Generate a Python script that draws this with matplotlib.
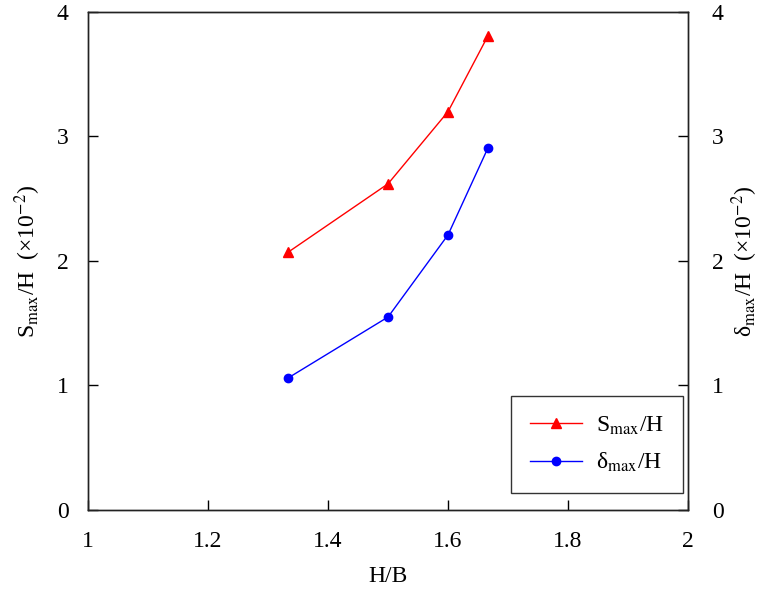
import matplotlib
matplotlib.use("Agg")
import matplotlib.pyplot as plt

plt.rcParams['font.family'] = ['Liberation Serif', 'DejaVu Serif']
plt.rcParams['mathtext.fontset'] = 'stix'

# data
hb = [4 / 3, 1.5, 1.6, 5 / 3]
s_max = [2.07, 2.62, 3.20, 3.81]       # S_max/H (x10^-2), left axis
d_max = [1.06, 1.55, 2.21, 2.91]       # delta_max/H (x10^-2), right axis
x_ticks = [1, 1.2, 1.4, 1.6, 1.8, 2]
x_labels = ['1', '1.2', '1.4', '1.6', '1.8', '2']
y_ticks = [0, 1, 2, 3, 4]

fig = plt.figure(figsize=(7.62, 5.99), dpi=100)
ax = fig.add_axes([0.1155, 0.1486, 0.7875, 0.8314])
ax2 = ax.twinx()

l1, = ax.plot(hb, s_max, color='#ff0000', lw=1.0, marker='^', ms=7,
              label=r'S$_{\mathrm{max}}$/H')
l2, = ax2.plot(hb, d_max, color='#0000ff', lw=1.0, marker='o', ms=6,
               label='δ$_{\\mathrm{max}}$/H')

ax.set_xlim(1, 2)
ax.set_ylim(0, 4)
ax2.set_ylim(0, 4)
ax.set_xticks(x_ticks)
ax.set_xticklabels(x_labels)
ax.set_yticks(y_ticks)
ax2.set_yticks(y_ticks)

fs = 17
ax.tick_params(axis='x', direction='in', length=7, width=1, pad=15, labelsize=fs)
ax.tick_params(axis='y', direction='in', length=7, width=1, pad=14, labelsize=fs)
ax2.tick_params(axis='y', direction='in', length=7, width=1, pad=17, labelsize=fs)

for a in (ax, ax2):
    for sp in a.spines.values():
        sp.set_linewidth(1.0)
        sp.set_color('#222222')

ax.set_xlabel('H/B', fontsize=fs, labelpad=10)
ax.set_ylabel(r'S$_{\mathrm{max}}$/H  (×10$^{-2}$)', fontsize=fs, labelpad=10)
ax2.set_ylabel('δ$_{\\mathrm{max}}$/H  (×10$^{-2}$)', fontsize=fs, labelpad=4)

leg = ax.legend(handles=[l1, l2], loc='lower right',
                bbox_to_anchor=(0.992, 0.034), fontsize=fs, frameon=True,
                fancybox=False, edgecolor='black', handlelength=2.2,
                borderpad=0.8, labelspacing=0.6, handletextpad=0.6,
                borderaxespad=0)
leg.get_frame().set_linewidth(1.0)

fig.savefig('out.png', dpi=100)
